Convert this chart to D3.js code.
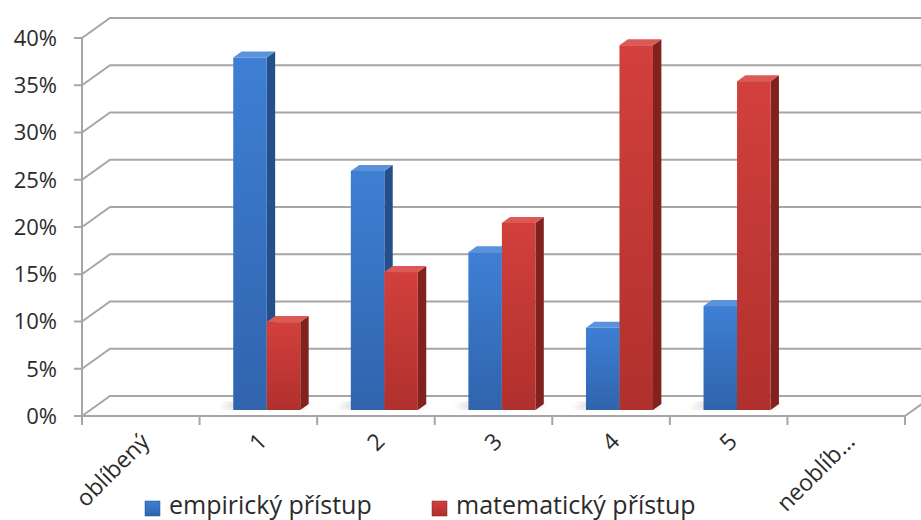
<!DOCTYPE html>
<html lang="cs">
<head>
    <meta charset="UTF-8">
    <title>Oblíbenost přístupů</title>
    <script src="https://d3js.org/d3.v7.min.js"></script>
    <style>
        body { margin: 0; background: white; }
        text { font-family: "Open Sans", sans-serif; fill: #2b2b2b; }
    </style>
</head>
<body>
    <div id="chart"></div>
    <script>
        const width = 921;
        const height = 520;

        // data
        const categories = ["oblíbený", "1", "2", "3", "4", "5", "neoblíb..."];
        const seriesNames = ["empirický přístup", "matematický přístup"];
        const empiricky = [0, 0.373, 0.253, 0.167, 0.087, 0.110, 0];
        const matematicky = [0, 0.093, 0.146, 0.198, 0.386, 0.348, 0];
        const yTicks = [0, 0.05, 0.10, 0.15, 0.20, 0.25, 0.30, 0.35, 0.40];

        // 3d look: how far "back" one unit of depth goes
        const depthX = 28, depthY = -20;
        const barFront = 0.3, barBack = 0.6;

        const x0 = 82, x1 = 905;
        const x = d3.scaleBand().domain(categories).range([x0, x1]);
        const xs = d3.scaleBand().domain(seriesNames)
            .range([-x.bandwidth() * 0.285, x.bandwidth() * 0.285]);
        const y = d3.scaleLinear().domain([0, 0.4]).range([416, 38]);

        const colors = {
            "empirický přístup": { front: ["#3e7fd4", "#3064ad"], side: "#244f8a", top: "#5a93dc" },
            "matematický přístup": { front: ["#d2403c", "#b0302d"], side: "#82221f", top: "#dc5a55" }
        };

        const svg = d3.select("#chart").append("svg")
            .attr("width", width)
            .attr("height", height);

        const defs = svg.append("defs");
        seriesNames.forEach((s, i) => {
            const g = defs.append("linearGradient").attr("id", "front" + i)
                .attr("x1", 0).attr("y1", 0).attr("x2", 0).attr("y2", 1);
            g.append("stop").attr("offset", "0%").attr("stop-color", colors[s].front[0]);
            g.append("stop").attr("offset", "100%").attr("stop-color", colors[s].front[1]);
        });
        defs.append("filter").attr("id", "blur")
            .append("feGaussianBlur").attr("stdDeviation", 3);

        const pt = (px, py, d) => [px + depthX * d, py + depthY * d];
        const poly = pts => "M" + pts.map(p => p.join(",")).join("L") + "Z";

        // back wall gridlines + left wall diagonals
        const grid = svg.append("g").attr("stroke", "#a6a6a6").attr("stroke-width", 2).attr("fill", "none");
        yTicks.forEach(t => {
            const a = pt(x0, y(t), 0), b = pt(x0, y(t), 1);
            grid.append("path").attr("d", `M${a}L${b}L${width + 10},${b[1]}`);
        });

        // floor front edge and right diagonal
        grid.append("path").attr("d", `M${x0},${y(0)}L${x1},${y(0)}L${pt(x1, y(0), 1)}`);

        // front value axis
        grid.append("line").attr("x1", x0).attr("x2", x0).attr("y1", y(0.4)).attr("y2", y(0));
        yTicks.forEach(t => {
            grid.append("line").attr("x1", x0 - 8).attr("x2", x0).attr("y1", y(t)).attr("y2", y(t));
        });
        // category ticks
        categories.forEach(c => {
            grid.append("line").attr("x1", x(c)).attr("x2", x(c)).attr("y1", y(0)).attr("y2", y(0) + 9);
        });
        grid.append("line").attr("x1", x1).attr("x2", x1).attr("y1", y(0)).attr("y2", y(0) + 9);

        // y labels
        svg.append("g").selectAll("text").data(yTicks).join("text")
            .attr("x", 57).attr("y", d => y(d))
            .attr("dy", "0.36em")
            .attr("text-anchor", "end")
            .style("font-size", "22px")
            .text(d3.format(".0%"));

        // x labels, rotated
        svg.append("g").selectAll("text").data(categories).join("text")
            .attr("transform", d => `translate(${x(d) + x.bandwidth() / 2 + 10},443) rotate(-45)`)
            .attr("text-anchor", "end")
            .style("font-size", "23px")
            .text(d => d);

        // bars
        const rows = [];
        categories.forEach((c, i) => {
            rows.push({ cat: c, s: 0, v: empiricky[i] });
            rows.push({ cat: c, s: 1, v: matematicky[i] });
        });
        const bars = rows.filter(d => d.v > 0);

        // soft shadows on the floor
        svg.append("g").selectAll("path").data(bars).join("path")
            .attr("d", d => {
                const l = x(d.cat) + x.bandwidth() / 2 + xs(seriesNames[d.s]);
                const r = l + xs.bandwidth();
                return poly([pt(l - 14, y(0), barFront + 0.05), pt(r, y(0), barFront + 0.05),
                    pt(r, y(0), barBack + 0.1), pt(l - 14, y(0), barBack + 0.1)]);
            })
            .attr("fill", "#b8b8b8")
            .attr("opacity", 0.5)
            .attr("filter", "url(#blur)");

        const barG = svg.append("g").selectAll("g").data(bars).join("g");
        barG.each(function(d) {
            const g = d3.select(this);
            const s = seriesNames[d.s];
            const l = x(d.cat) + x.bandwidth() / 2 + xs(s);
            const r = l + xs.bandwidth();
            const top = y(d.v), base = y(0);
            // side
            g.append("path")
                .attr("d", poly([pt(r, base, barFront), pt(r, base, barBack), pt(r, top, barBack), pt(r, top, barFront)]))
                .attr("fill", colors[s].side);
            // top
            g.append("path")
                .attr("d", poly([pt(l, top, barFront), pt(r, top, barFront), pt(r, top, barBack), pt(l, top, barBack)]))
                .attr("fill", colors[s].top);
            // front
            const f = pt(l, top, barFront);
            g.append("rect")
                .attr("x", f[0]).attr("y", f[1])
                .attr("width", r - l).attr("height", base - top)
                .attr("fill", `url(#front${d.s})`);
        });

        // legend
        const legendX = [145, 432];
        const legend = svg.append("g").selectAll("g").data(seriesNames).join("g")
            .attr("transform", (d, i) => `translate(${legendX[i]},501)`);
        legend.append("rect")
            .attr("width", 15).attr("height", 15)
            .attr("fill", (d, i) => `url(#front${i})`)
            .attr("stroke", (d, i) => colors[d].side).attr("stroke-width", 0.5);
        legend.append("text")
            .attr("x", 24).attr("y", 13)
            .style("font-size", "25px")
            .text(d => d);
    </script>
</body>
</html>
